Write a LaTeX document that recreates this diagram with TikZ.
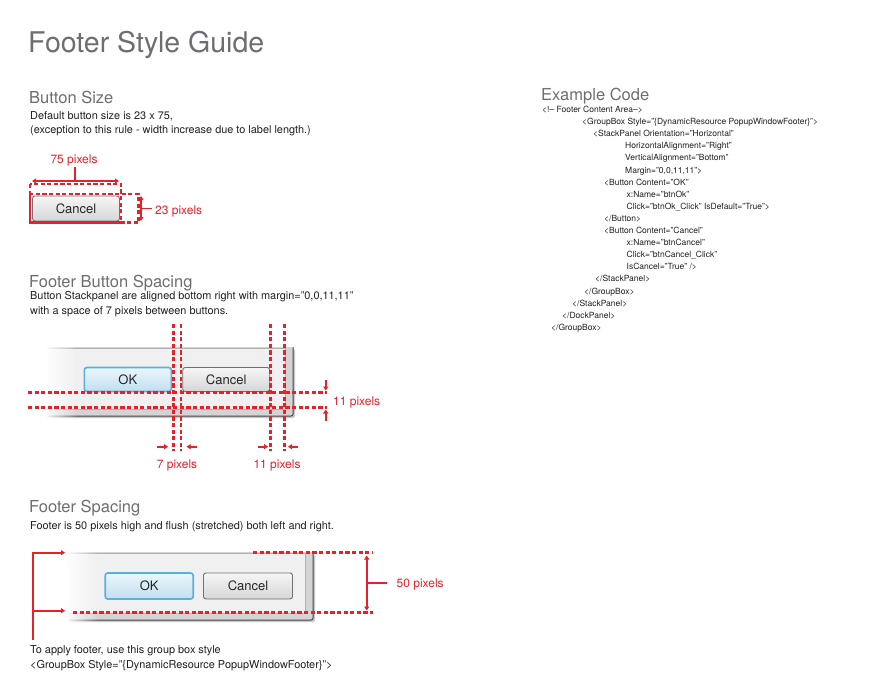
\documentclass[tikz,border=0pt]{standalone}
\usepackage{fontspec}
\setmainfont{TeX Gyre Heros}
\usetikzlibrary{arrows.meta,fadings}
\definecolor{redl}{HTML}{E8202A}
\definecolor{headgray}{HTML}{6D6E71}
\definecolor{bodytxt}{HTML}{231F20}
\definecolor{btnborder}{HTML}{707070}
\definecolor{btntop}{HTML}{F6F6F6}
\definecolor{btnbot}{HTML}{D6D6D6}
\definecolor{okborder}{HTML}{5AAFDF}
\definecolor{oktop}{HTML}{EAF6FD}
\definecolor{okbot}{HTML}{C2DEEF}
\definecolor{clientgray}{HTML}{F0F0F0}
\definecolor{framegray}{HTML}{D4D4D4}
\tikzfading[name=leftfade, left color=transparent!0, right color=transparent!100]
\newcommand{\mydlgbox}[4]{%
  \fill[black!22, rounded corners=2pt] (#1+2,#2+1) rectangle (#3+10,#4+9);
  \fill[framegray, rounded corners=2pt] (#1,#2-1) rectangle (#3+8,#4+7);
  \draw[black!72, line width=1pt, rounded corners=2pt] (#3+8,#2-1) -- (#3+8,#4+7) -- (#1,#4+7);
  \fill[clientgray] (#1,#2) rectangle (#3,#4);
  \draw[black!30, line width=0.8pt] (#1,#2) -- (#3,#2) -- (#3,#4) -- (#1,#4);
  \fill[white, path fading=leftfade] (#1-4,#2-4) rectangle (#1+30,#4+12);
}
\begin{document}
\begin{tikzpicture}[x=1pt,y=-1pt,
  head/.style={anchor=base west, inner sep=0, text=headgray, font=\fontsize{16.5}{18}\selectfont},
  body/.style={anchor=base west, inner sep=0, text=bodytxt, font=\fontsize{10.9}{12}\selectfont},
  code/.style={anchor=base west, inner sep=0, text=bodytxt, font=\fontsize{8.5}{10}\selectfont},
  lbl/.style={inner sep=0, text=redl, font=\fontsize{12}{14}\selectfont},
  rdash/.style={draw=redl, line width=2.7pt, dash pattern=on 4.2pt off 2.4pt},
  rline/.style={draw=redl, line width=1.8pt},
  rarr/.style={draw=redl, line width=1.8pt, -{Triangle[length=4pt,width=5pt]}},
  rdarr/.style={draw=redl, line width=1.8pt, {Triangle[length=4pt,width=5pt]}-{Triangle[length=4pt,width=5pt]}},
  winbtn/.style={draw=btnborder, rounded corners=2.5pt, top color=btntop, bottom color=btnbot,
    inner sep=0, text=black!85, font=\fontsize{13}{14}\selectfont, line width=0.9pt},
  okbtn/.style={winbtn, draw=okborder, top color=oktop, bottom color=okbot, line width=1.6pt}
]
\useasboundingbox[fill=white] (0,0) rectangle (885,681);

% ---------- titles ----------
\node[anchor=base west, inner sep=0, text=headgray, font=\fontsize{28.5}{30}\selectfont] (title) at (28,52.3) {Footer Style Guide};

% ---------- Button Size ----------
\node[head] (h1) at (29,103) {Button Size};
\node[body] (t1a) at (30,119.5) {Default button size is 23 x 75,};
\node[body] (t1b) at (30,133.5) {(exception to this rule - width increase due to label length.)};

\node[winbtn, minimum width=87pt, minimum height=25pt] (c1) at (76,208.5) {Cancel};
\draw[rdash] (30,184) rectangle (121,222.5);
\draw[rdash] (30,194) rectangle (138.5,222.5);

\node[lbl, anchor=base] (l75) at (74,163) {75 pixels};
\coordinate (w1) at (32,181);
\coordinate (w2) at (119,181);
\coordinate (wt) at (75,167);
\draw[rdarr] (w1) -- (w2);
\draw[rline] (wt) -- (75,181);

\node[lbl, anchor=base west] (l23) at (155,214) {23 pixels};
\coordinate (h23a) at (141,196);
\coordinate (h23b) at (141,221);
\draw[rdarr] (h23a) -- (h23b);
\draw[rline] (141,208.5) -- (152,208.5);

% ---------- Footer Button Spacing ----------
\node[head] (h2) at (29,287) {Footer Button Spacing};
\node[body] (t2a) at (30,299.5) {Button Stackpanel are aligned bottom right with margin="0,0,11,11"};
\node[body] (t2b) at (30,314) {with a space of 7 pixels between buttons.};

\mydlgbox{47}{348}{285}{409}
\node[okbtn, minimum width=87pt, minimum height=24pt] (ok2) at (127.8,379.5) {OK};
\node[winbtn, minimum width=87pt, minimum height=24pt] (c2) at (226.2,379.5) {Cancel};

\draw[rdash] (173.3,324) -- (173.3,451);
\draw[rdash] (181,324) -- (181,451);
\draw[rdash] (270.7,324) -- (270.7,451);
\draw[rdash] (284.3,324) -- (284.3,451);
\draw[rdash] (28,392.7) -- (327,392.7);
\draw[rdash] (28,407.3) -- (327,407.3);

\draw[rarr] (157,446.7) -- (168,446.7);
\draw[rarr] (197,446.7) -- (186.5,446.7);
\draw[rarr] (257.5,446.7) -- (268,446.7);
\draw[rarr] (298,446.7) -- (288,446.7);
\draw[rarr] (325.7,379.5) -- (325.7,390.5);
\draw[rarr] (325.7,420.5) -- (325.7,409.5);

\node[lbl, anchor=base] (l7) at (177,468) {7 pixels};
\node[lbl, anchor=base] (l11b) at (277,468) {11 pixels};
\node[lbl, anchor=base west] (l11r) at (333,405.5) {11 pixels};

% ---------- Footer Spacing ----------
\node[head] (h3) at (29,512.7) {Footer Spacing};
\node[body] (t3a) at (30,529) {Footer is 50 pixels high and flush (stretched) both left and right.};

\mydlgbox{68}{553}{305}{613}
\node[okbtn, minimum width=88pt, minimum height=26pt] (ok3) at (149.2,586) {OK};
\node[winbtn, minimum width=89pt, minimum height=26pt] (c3) at (248,586) {Cancel};

\draw[rdash] (253,552.7) -- (373,552.7);
\draw[rdash] (73,612.7) -- (373,612.7);
\coordinate (f1) at (366.7,555.5);
\coordinate (f2) at (366.7,610.5);
\draw[rdarr] (f1) -- (f2);
\draw[rline] (366.7,582.7) -- (387,582.7);
\node[lbl, anchor=base west] (l50) at (396.5,587) {50 pixels};

\coordinate (b0) at (32.7,640);
\coordinate (bt) at (32.7,552.7);
\coordinate (bb) at (32.7,610.7);
\draw[draw=redl, line width=2.4pt] (b0) -- ([yshift=1.2pt]bt);
\draw[rarr] ([xshift=-1.2pt]bt) -- (65,552.7);
\draw[rarr] (bb) -- (65,610.7);

\node[body] (t3b) at (30,653) {To apply footer, use this group box style};
\node[body] (t3c) at (30,668) {<GroupBox Style="\{DynamicResource PopupWindowFooter\}">};

% ---------- Example Code ----------
\node[head] (h4) at (541,100.5) {Example Code};
\node[code] (k0) at (542,112.5) {<!-- Footer Content Area-->};
\node[code] (k1) at (582,124.6) {<GroupBox Style="\{DynamicResource PopupWindowFooter\}">};
\node[code] (k2) at (593,136.7) {<StackPanel Orientation="Horizontal"};
\node[code] (k3) at (625,148.8) {HorizontalAlignment="Right"};
\node[code] (k4) at (625,160.9) {VerticalAlignment="Bottom"};
\node[code] (k5) at (625,173.0) {Margin="0,0,11,11">};
\node[code] (k6) at (604,185.1) {<Button Content="OK"};
\node[code] (k7) at (626.5,197.2) {x:Name="btnOk"};
\node[code] (k8) at (626.5,209.3) {Click="btnOk\_Click" IsDefault="True">};
\node[code] (k9) at (604,221.4) {</Button>};
\node[code] (k10) at (604,233.5) {<Button Content="Cancel"};
\node[code] (k11) at (626.5,245.6) {x:Name="btnCancel"};
\node[code] (k12) at (626.5,257.7) {Click="btnCancel\_Click"};
\node[code] (k13) at (626.5,269.8) {IsCancel="True" />};
\node[code] (k14) at (595,281.9) {</StackPanel>};
\node[code] (k15) at (584,294.0) {</GroupBox>};
\node[code] (k16) at (572,306.1) {</StackPanel>};
\node[code] (k17) at (562,318.2) {</DockPanel>};
\node[code] (k18) at (551,330.3) {</GroupBox>};
\end{tikzpicture}
\end{document}
